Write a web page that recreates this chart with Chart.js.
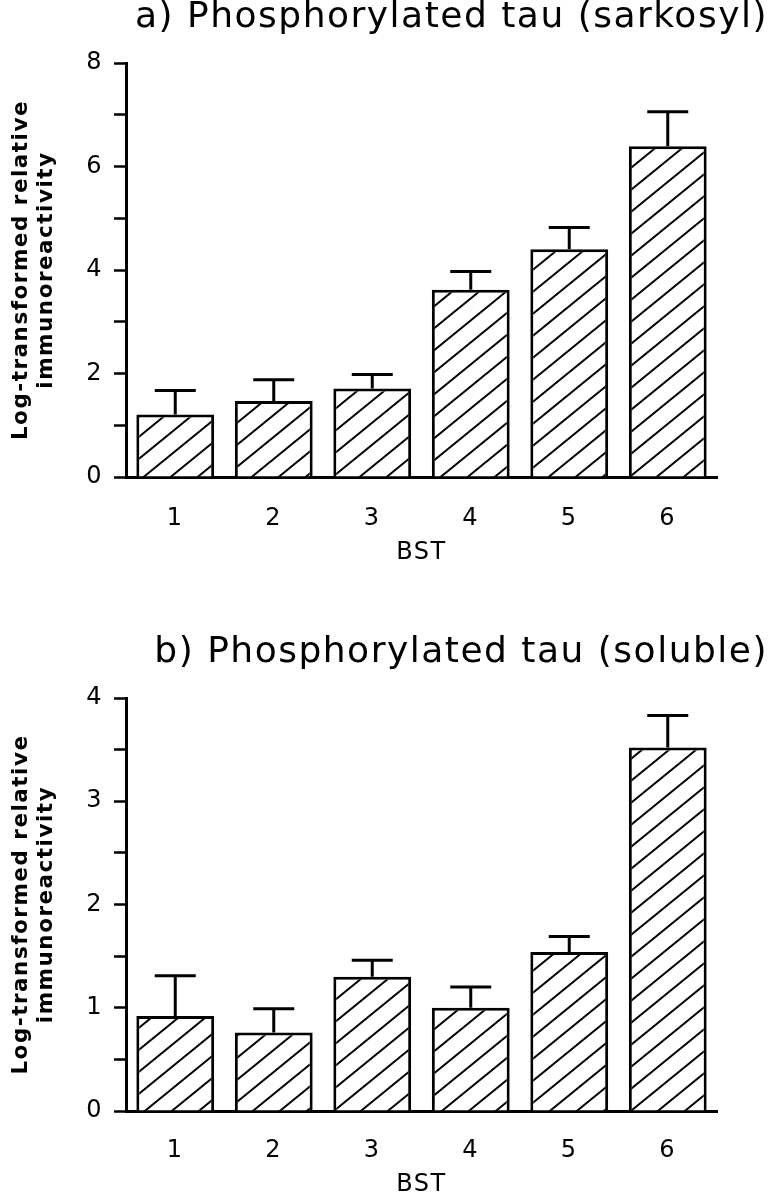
<!DOCTYPE html>
<html>
<head>
<meta charset="utf-8">
<script src="https://cdn.jsdelivr.net/npm/chart.js@4/dist/chart.umd.min.js"></script>
<style>
  html, body { margin: 0; padding: 0; background: #fff; overflow: hidden; }
  .panel { position: relative; width: 774px; }
</style>
</head>
<body>
<div class="panel" style="height:635px"><canvas id="chartA" width="774" height="635"></canvas></div>
<div class="panel" style="height:564px"><canvas id="chartB" width="774" height="564"></canvas></div>
<script>
// BST stages on the x axis
const categories = ['1', '2', '3', '4', '5', '6'];

// a) sarkosyl fraction: bar height and upper error (SEM)
const sarkosylMeans  = [1.21, 1.47, 1.71, 3.62, 4.40, 6.39];
const sarkosylErrors = [0.46, 0.41, 0.27, 0.35, 0.42, 0.67];

// b) soluble fraction
const solubleMeans  = [0.92, 0.76, 1.30, 1.00, 1.54, 3.52];
const solubleErrors = [0.39, 0.23, 0.16, 0.20, 0.15, 0.31];

const yAxisLabel = ['Log-transformed relative', 'immunoreactivity'];
const xAxisLabel = 'BST';

const FONT = 'DejaVu Sans';

function hatch() {
    const w = 27, h = 22;
    const c = document.createElement('canvas');
    c.width = w; c.height = h;
    const g = c.getContext('2d');
    g.fillStyle = '#fff';
    g.fillRect(0, 0, w, h);
    g.strokeStyle = '#000';
    g.lineWidth = 2;
    g.beginPath();
    for (let k = 0; k <= 2; k++) {
        g.moveTo(-w, h * (k + 1));
        g.lineTo(2 * w, h * (k - 2));
    }
    g.stroke();
    return c;
}

// spaced lettering like the original typesetting
const spacing = {
    id: 'spacing',
    beforeDraw(chart) { chart.ctx.letterSpacing = '1.5px'; }
};

// upper-only error bars, T shaped
const errorBars = {
    id: 'errorBars',
    afterDatasetsDraw(chart, args, opts) {
        const ctx = chart.ctx;
        const y = chart.scales.y;
        const meta = chart.getDatasetMeta(0);
        const means = chart.data.datasets[0].data;
        ctx.save();
        ctx.strokeStyle = '#000';
        ctx.lineWidth = 3;
        meta.data.forEach((bar, i) => {
            const top = y.getPixelForValue(means[i] + opts.errors[i]);
            ctx.beginPath();
            ctx.moveTo(bar.x, bar.y);
            ctx.lineTo(bar.x, top);
            ctx.moveTo(bar.x - 20.5, top);
            ctx.lineTo(bar.x + 20.5, top);
            ctx.stroke();
        });
        ctx.restore();
    }
};

function drawPanel(id, title, means, errors, yMax, yStep, labelEvery, xHeight, labelPad, titlePad) {
    const ctx = document.getElementById(id).getContext('2d');
    const pattern = ctx.createPattern(hatch(), 'repeat');
    return new Chart(ctx, {
        type: 'bar',
        data: {
            labels: categories,
            datasets: [{
                data: means,
                backgroundColor: pattern,
                borderColor: '#000',
                borderWidth: 3,
                categoryPercentage: 1,
                barPercentage: 0.79
            }]
        },
        options: {
            responsive: false,
            animation: false,
            devicePixelRatio: 1,
            layout: { padding: { left: 0, right: 6, top: 0, bottom: 0 } },
            plugins: {
                legend: { display: false },
                tooltip: { enabled: false },
                title: {
                    display: true,
                    text: title,
                    align: 'end',
                    color: '#000',
                    font: { family: FONT, size: 36, weight: 'normal', lineHeight: 1 },
                    padding: { top: 0, bottom: 27 }
                },
                errorBars: { errors: errors }
            },
            scales: {
                x: {
                    grid: { display: false },
                    border: { display: true, color: '#000', width: 3 },
                    ticks: { color: '#000', padding: labelPad, font: { family: FONT, size: 24 } },
                    title: {
                        display: true,
                        text: xAxisLabel,
                        color: '#000',
                        font: { family: FONT, size: 24 },
                        padding: { top: 0, bottom: titlePad }
                    },
                    afterFit(s) { s.height = xHeight; }
                },
                y: {
                    min: 0,
                    max: yMax,
                    grid: {
                        display: true,
                        drawOnChartArea: false,
                        tickLength: 12,
                        tickWidth: 2.5,
                        tickColor: '#000'
                    },
                    border: { display: true, color: '#000', width: 3 },
                    ticks: {
                        stepSize: yStep,
                        color: '#000',
                        padding: 11,
                        font: { family: FONT, size: 24 },
                        callback: v => (v % labelEvery === 0 ? v : '')
                    },
                    title: {
                        display: true,
                        text: yAxisLabel,
                        color: '#000',
                        font: { family: FONT, size: 21.5, weight: 'bold', lineHeight: 25 / 21.5 },
                        padding: { top: 8.5, bottom: 0 }
                    },
                    afterFit(s) { s.width = 126; }
                },
                r: {
                    type: 'linear',
                    position: 'right',
                    display: true,
                    grid: { display: false },
                    border: { display: false },
                    ticks: { display: false },
                    afterFit(s) { s.width = 51; }
                }
            }
        },
        plugins: [spacing, errorBars]
    });
}

drawPanel('chartA', 'a) Phosphorylated tau (sarkosyl)', sarkosylMeans, sarkosylErrors, 8, 1, 2, 158, 19, 67.6);
drawPanel('chartB', 'b) Phosphorylated tau (soluble)', solubleMeans, solubleErrors, 4, 0.5, 1, 88, 17, 0);
</script>
</body>
</html>
